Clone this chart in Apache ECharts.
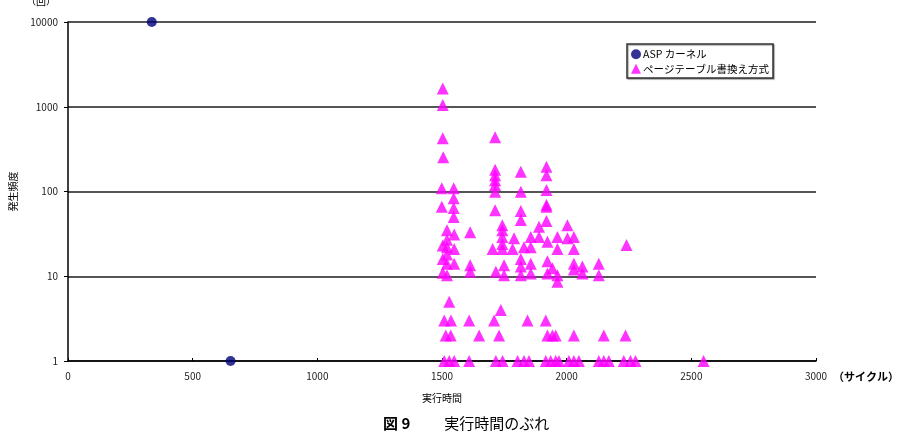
<!DOCTYPE html>
<html>
<head>
<meta charset="utf-8">
<script src="https://cdn.jsdelivr.net/npm/echarts@6/dist/echarts.min.js"></script>
<style>html,body{margin:0;padding:0;background:#fff}#c{width:900px;height:440px}</style>
</head>
<body>
<div id="c"></div>
<script>
// ---- data ----
const xTicks = [0, 500, 1000, 1500, 2000, 2500, 3000];
const yTicks = [1, 10, 100, 1000, 10000];
const aspName = 'ASP カーネル';
const aspX = [336, 652];
const aspY = [10000, 1];
const pageName = 'ページテーブル書換え方式';
const pageX = [
  1503,1503,1503,1505,1499,1499,1503,1503,1503,1509,1509,
  1520,1520,1520,1520,1520,1520,1529,1536,1515,1535,1529,
  1547,1547,1547,1547,1549,1549,1549,1549,
  1613,1613,1613,1609,1609,1649,
  1713,1713,1713,1713,1713,1713,1713,1742,1742,1742,1703,1742,1742,1716,1749,1749,1709,1736,1729,1716,1743,
  1789,1783,1816,1816,1816,1816,1829,1856,1856,1816,1816,1816,1856,1856,1843,1803,1829,1849,
  1889,1889,
  1919,1919,1919,1919,1919,1919,1923,1923,1923,1963,1963,1943,1963,1963,1916,1923,1943,1956,1916,1936,1956,1969,
  2003,2003,2029,2029,2029,2029,2063,2063,2129,2129,2240,2009,2029,2049,2029,
  2149,2129,2149,2169,
  2236,2229,2256,2276,
  2549
];
const pageY = [
  1640,1050,425,253,109,66,23,16,11,3,1,
  35,27,22,18,14,10.3,5,3,2,2,1,
  109,83,64,50,31,21,14,1,
  33,13.5,11.3,3,1,2,
  436,180,156,136,119,99,60,40,35,29,21,21,24,11.3,13.5,10.3,3,4,2,1,1,
  28,21,171,99,59,46,22,29,22,16,13,10.3,14,10.8,3,1,1,1,
  38.5,29,
  196,156,104,70,66,45,25.5,15,10.8,29,21,12.4,10.3,8.6,3,2,2,2,1,1,1,1,
  40,28,29,21,14,12,13,10.8,14,10.3,23.4,1,1,1,2,
  2,1,1,1,
  2,1,1,1,
  1
];

const aspData = aspX.map((x, i) => [x, aspY[i]]);
const pageData = pageX.map((x, i) => [x, pageY[i]]);

const JP = '"Noto Sans CJK JP", "Noto Sans", sans-serif';
const chart = echarts.init(document.getElementById('c'), null, {renderer: 'canvas'});
chart.setOption({
  animation: false,
  backgroundColor: '#fff',
  textStyle: {fontFamily: JP},
  grid: {left: 66, right: 84, top: 22, bottom: 79},
  title: {
    text: '{b|図 9}{s|}実行時間のぶれ',
    left: 383, top: 416, padding: 0,
    textStyle: {
      fontFamily: JP, fontSize: 15, fontWeight: 'normal', color: '#000',
      rich: {
        b: {fontFamily: JP, fontSize: 15, fontWeight: 'bold', color: '#000'},
        s: {width: 34}
      }
    }
  },
  legend: {
    orient: 'vertical',
    left: 627, top: 44,
    padding: [5, 4, 4, 4],
    itemGap: 4,
    itemWidth: 10, itemHeight: 10,
    borderColor: '#333', borderWidth: 1.5,
    backgroundColor: '#fff',
    shadowColor: 'rgba(0,0,0,0.35)', shadowOffsetX: 1, shadowOffsetY: 1, shadowBlur: 1,
    textStyle: {fontFamily: JP, fontSize: 10.5, color: '#000', padding: [0, 0, 0, -3]},
    data: [{name: aspName, icon: 'circle'}, {name: pageName, icon: 'triangle'}]
  },
  xAxis: {
    type: 'value', min: 0, max: 3000, interval: 500,
    name: '実行時間', nameLocation: 'middle', nameGap: 32,
    nameTextStyle: {fontFamily: JP, fontSize: 10, color: '#000'},
    axisLine: {lineStyle: {color: '#000', width: 1.5}},
    axisTick: {show: true, inside: true, length: 3, lineStyle: {color: '#000'}},
    axisLabel: {fontSize: 10, color: '#222', margin: 10,
      formatter: v => xTicks.includes(v) ? String(v) : ''},
    splitLine: {show: false}
  },
  yAxis: {
    type: 'log', logBase: 10, min: 1, max: 10000,
    name: '発生頻度', nameLocation: 'middle', nameGap: 50, nameRotate: 90,
    nameTextStyle: {fontFamily: JP, fontSize: 10, color: '#000'},
    axisLine: {show: true, lineStyle: {color: '#000', width: 1.5}},
    axisTick: {show: true, inside: false, length: 4, lineStyle: {color: '#000'}},
    axisLabel: {fontSize: 10, color: '#222', margin: 10,
      formatter: v => yTicks.includes(Math.round(v)) ? String(Math.round(v)) : ''},
    splitLine: {show: true, lineStyle: {color: '#555', width: 2}}
  },
  graphic: [
    {type: 'text', left: 26, top: -4, style: {text: '（回）', font: '10px ' + JP, fill: '#000'}},
    {type: 'text', left: 833, top: 371, style: {text: '（サイクル）', font: 'bold 11px ' + JP, fill: '#000'}}
  ],
  series: [
    {
      name: aspName, type: 'scatter', symbol: 'circle', symbolSize: 10,
      itemStyle: {color: '#00007a'}, data: aspData, z: 3
    },
    {
      name: pageName, type: 'scatter', symbol: 'triangle', symbolSize: 12,
      itemStyle: {color: '#ff00ff'}, data: pageData, z: 4
    }
  ]
});
</script>
</body>
</html>
